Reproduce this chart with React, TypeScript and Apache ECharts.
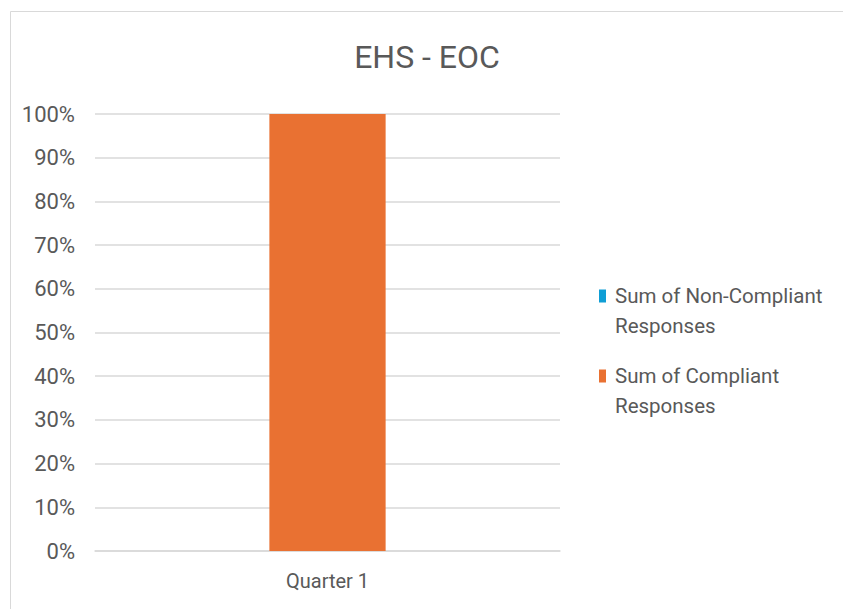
import React, { useEffect, useRef } from "react";
import * as echarts from "echarts";

const categories = ["Quarter 1"];
const nonCompliantPct = [0];
const compliantPct = [100];
const seriesNames = ["Sum of Non-Compliant Responses", "Sum of Compliant Responses"];
const legendLabels: Record<string, string> = {
  "Sum of Non-Compliant Responses": "Sum of Non-Compliant\nResponses",
  "Sum of Compliant Responses": "Sum of Compliant\nResponses",
};

const FONT = "Roboto, 'Liberation Sans', sans-serif";
const TEXT = "#595959";
// legend marker: a 7x13 square placed beside the first of two 30px text lines
const LEGEND_ICON = "path://M0,0 L0.01,0 M0,8.5 L7,8.5 L7,21.5 L0,21.5 Z M0,60 L0.01,60";

export default function App() {
  const ref = useRef<HTMLDivElement>(null);
  useEffect(() => {
    if (!ref.current) return;
    const chart = echarts.init(ref.current, undefined, { renderer: "svg" });
    chart.setOption({
      animation: false,
      backgroundColor: "#ffffff",
      title: {
        text: "EHS - EOC",
        left: 422,
        textAlign: "center",
        top: 36,
        textStyle: { fontFamily: FONT, fontSize: 32, fontWeight: "normal", color: TEXT },
      },
      graphic: [
        {
          type: "rect",
          shape: { x: 10.5, y: 11.5, width: 1000, height: 800 },
          style: { fill: "none", stroke: "#d9d9d9", lineWidth: 1 },
          silent: true,
          z: -1,
        },
      ],
      grid: { left: 95, right: 283, top: 114, bottom: 58, containLabel: false },
      legend: {
        orient: "vertical",
        left: 594,
        top: 276,
        icon: LEGEND_ICON,
        itemWidth: 7,
        itemHeight: 60,
        itemGap: 20,
        data: seriesNames,
        formatter: (name: string) => legendLabels[name] || name,
        textStyle: {
          fontFamily: FONT,
          fontSize: 20.5,
          color: TEXT,
          lineHeight: 30,
          padding: [0, 0, 0, 4],
        },
      },
      xAxis: {
        type: "category",
        data: categories,
        axisLine: { show: true, lineStyle: { color: "#d9d9d9", width: 1.5 } },
        axisTick: { show: false },
        axisLabel: { fontFamily: FONT, fontSize: 20, color: TEXT, margin: 20 },
      },
      yAxis: {
        type: "value",
        min: 0,
        max: 100,
        interval: 10,
        axisLine: { show: false },
        axisTick: { show: false },
        splitLine: { lineStyle: { color: "#d9d9d9", width: 1.5 } },
        axisLabel: {
          formatter: "{value}%",
          fontFamily: FONT,
          fontSize: 22,
          color: TEXT,
          margin: 20,
        },
      },
      series: [
        {
          name: seriesNames[0],
          type: "bar",
          stack: "total",
          data: nonCompliantPct,
          barWidth: "25%",
          itemStyle: { color: "#0F9ED5" },
        },
        {
          name: seriesNames[1],
          type: "bar",
          stack: "total",
          data: compliantPct,
          barWidth: "25%",
          itemStyle: { color: "#E97132" },
        },
      ],
    });
    return () => chart.dispose();
  }, []);
  return (
    <div
      ref={ref}
      style={{ position: "fixed", left: 0, top: 0, width: 843, height: 609 }}
    />
  );
}
